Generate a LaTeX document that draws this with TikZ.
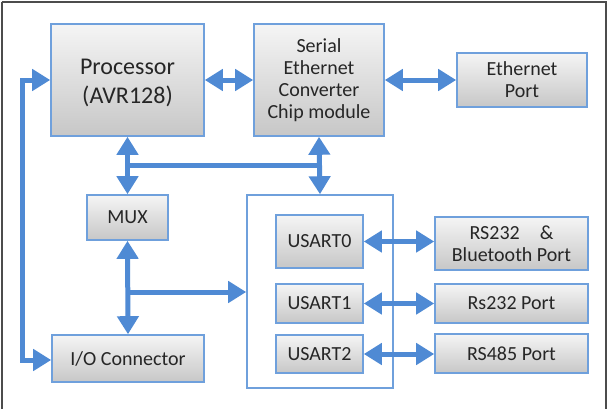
\documentclass[tikz,border=0pt]{standalone}
\usepackage{fontspec}
\setmainfont{Carlito}
\usetikzlibrary{arrows.meta,calc}
\definecolor{bord}{RGB}{111,160,220}
\definecolor{arr}{RGB}{79,138,212}
\definecolor{txt}{RGB}{38,38,38}
\tikzset{
  blk/.style={draw=bord, line width=1.6pt, top color=white!96!black, bottom color=white!78!black, text=txt, font=\fontsize{20}{22}\selectfont, align=center, inner sep=0pt},
  tip/.tip={Triangle[width=21pt,length=18pt]},
  con/.style={draw=arr, line width=5pt, arrows={tip-tip}},
  con1/.style={draw=arr, line width=5pt, arrows={-tip}},
  bus/.style={draw=arr, line width=5pt},
}
\begin{document}
\begin{tikzpicture}[x=1pt,y=-1pt]
\useasboundingbox (0,0) rectangle (611,408);
\fill[white] (0,0) rectangle (611,408);
\draw[black!70, line width=2pt] (1.5,1.5) -- (606,1.5) -- (606,412);
\draw[black!70, line width=2pt] (1.5,1.5) -- (1.5,412);
% boxes
\node[blk, minimum width=153pt, minimum height=112pt] (proc) at (127.5,80) {};
\node[text=txt, align=center, font=\fontsize{24}{29}\selectfont, inner sep=0pt] (proctxt) at (127.5,83) {Processor\\(AVR128)};
\node[blk, minimum width=130pt, minimum height=112pt] (ser) at (319,80) {Serial\\Ethernet\\Converter\\Chip module};
\node[blk, minimum width=130pt, minimum height=54pt] (eth) at (522,80) {Ethernet\\Port};
\node[blk, minimum width=81pt, minimum height=45pt] (mux) at (127.5,217.5) {MUX};
\node[blk, minimum width=152pt, minimum height=47pt] (io) at (128,358.5) {I/O Connector};
\node[draw=bord, line width=1.6pt, fill=white, minimum width=146pt, minimum height=193pt] (cont) at (320,291.5) {};
\node[blk, minimum width=87pt, minimum height=53pt] (u0) at (319.5,241.5) {USART0};
\node[blk, minimum width=87pt, minimum height=39pt] (u1) at (319.5,303.5) {USART1};
\node[blk, minimum width=87pt, minimum height=38pt] (u2) at (319.5,354) {USART2};
\node[blk, minimum width=153pt, minimum height=53pt] (p0) at (511.5,243.5) {RS232\quad \&\\Bluetooth Port};
\node[blk, minimum width=153pt, minimum height=39pt] (p1) at (511.5,303.5) {Rs232 Port};
\node[blk, minimum width=153pt, minimum height=39pt] (p2) at (511.5,353.5) {RS485 Port};
% connectors
\draw[con] (proc.east) -- (ser.west);
\draw[con] (ser.east) -- (eth.west);
\draw[con] (proc.south) -- (mux.north);
\draw[con] (ser.south) -- (cont.north);
\coordinate (b1) at (proc.south |- 0,165);
\coordinate (b2) at (ser.south |- 0,165);
\draw[bus] (b1) -- (b2);
\draw[con] (mux.south) -- (io.north);
\coordinate (br) at (mux.south |- 0,292);
\draw[con1] (br) -- (cont.west |- br);
\coordinate (l1) at (22,80);
\coordinate (l2) at (22,360);
\draw[con] (proc.west |- l1) -- (l1) -- (l2) -- (io.west |- l2);
\draw[con] (u0.east) -- (p0.west |- u0.east);
\draw[con] (u1.east) -- (p1.west);
\draw[con] (u2.east) -- (p2.west |- u2.east);
\end{tikzpicture}
\end{document}
